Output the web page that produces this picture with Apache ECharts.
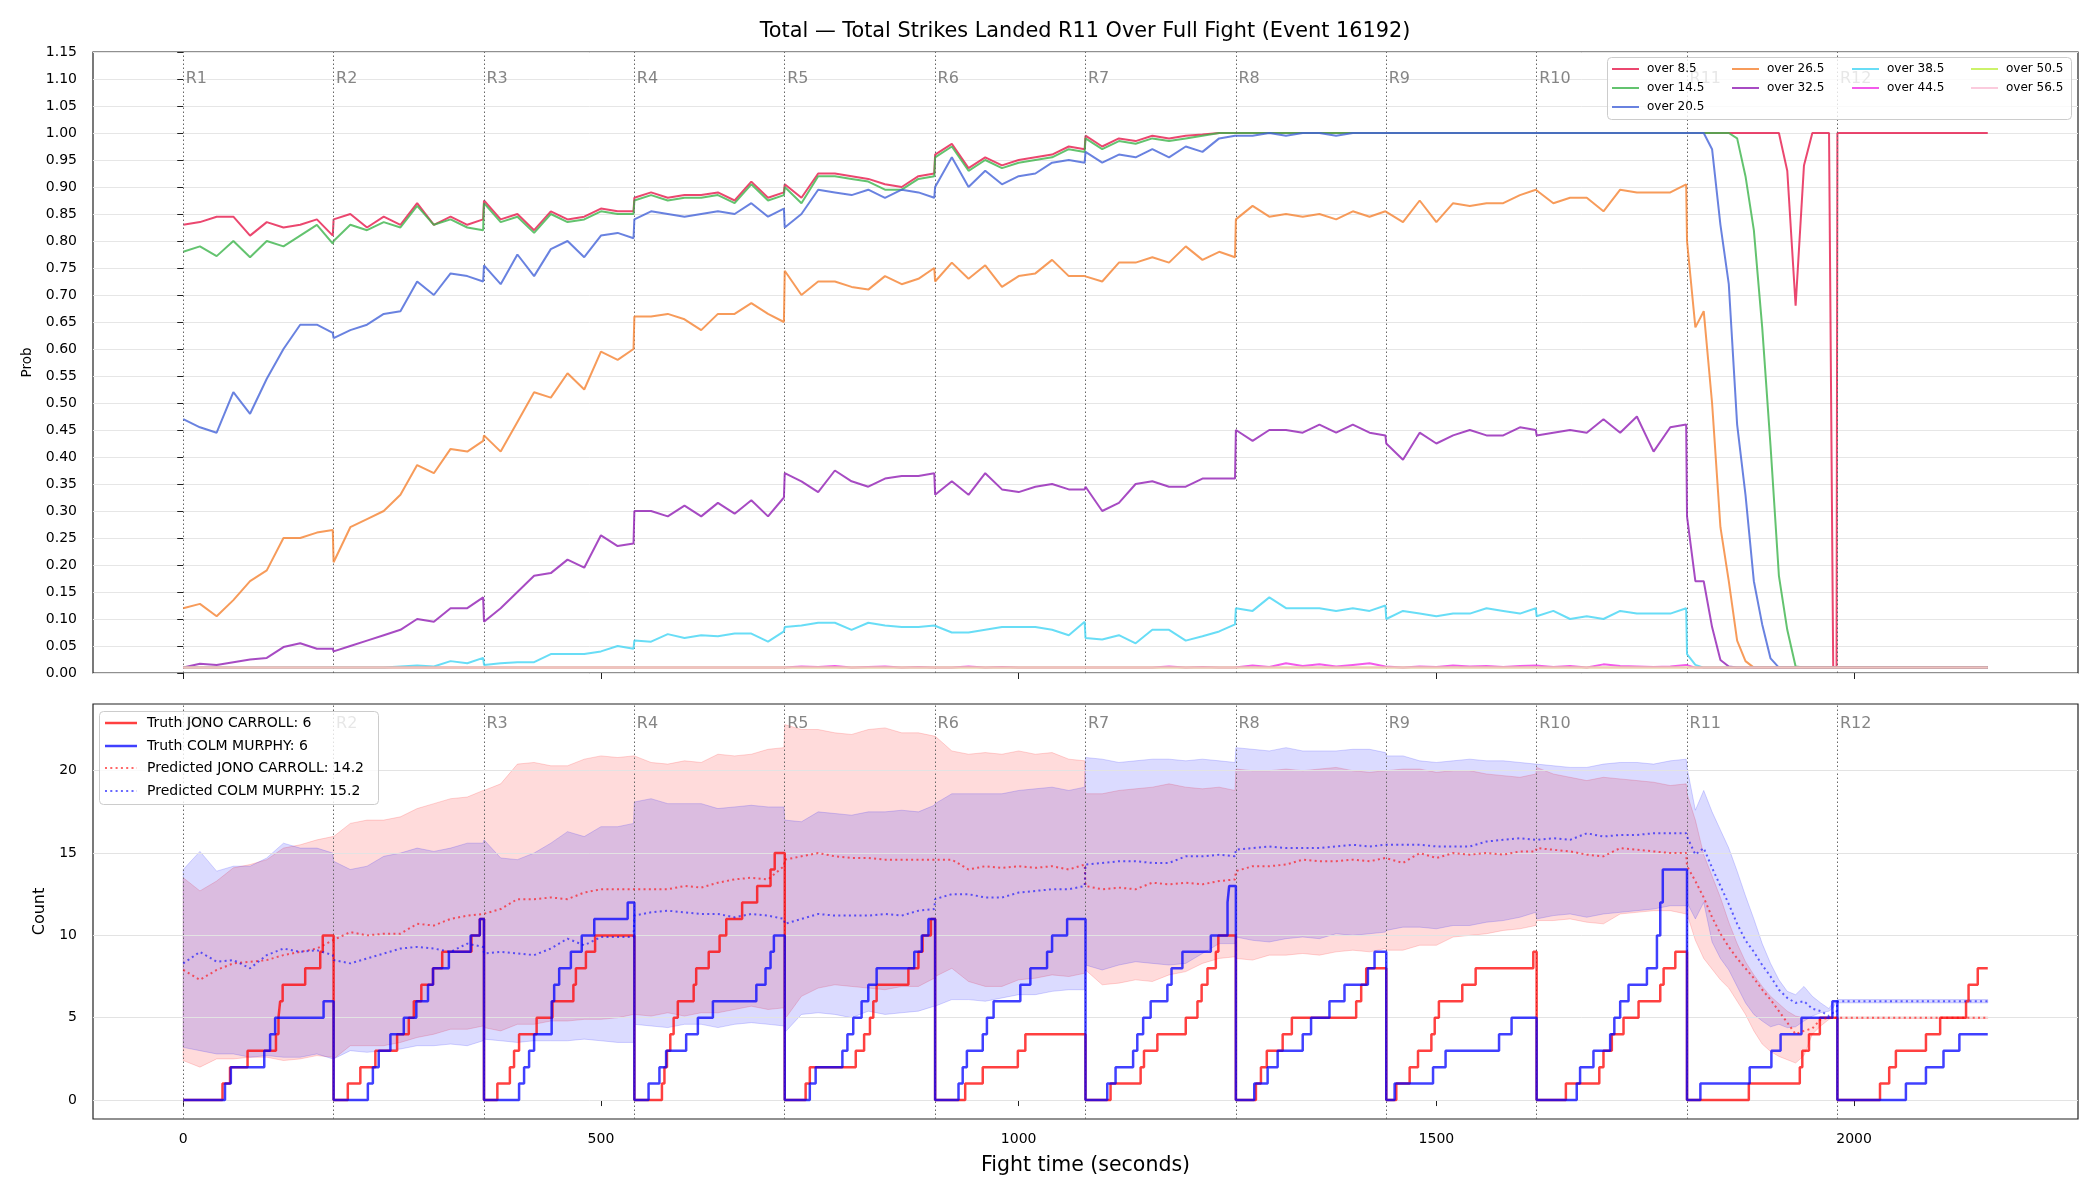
<!DOCTYPE html>
<html>
<head>
<meta charset="utf-8">
<script src="https://cdn.jsdelivr.net/npm/echarts/dist/echarts.min.js"></script>
<style>
  html, body { margin: 0; padding: 0; background: #fff; }
  #chart { width: 2100px; height: 1200px; }
</style>
</head>
<body>
<div id="chart"></div>
<script>
// ---- sampling grid (seconds into the fight) ----
const roundStarts = [0, 180, 360, 540, 720, 900, 1080, 1260, 1440, 1620, 1800, 1980];
const roundNames = ['R1', 'R2', 'R3', 'R4', 'R5', 'R6', 'R7', 'R8', 'R9', 'R10', 'R11', 'R12'];
const stdOffsets = [0, 20, 40, 60, 80, 100, 120, 140, 160, 179];
const r11Offsets = [0, 10, 20, 30, 40, 50, 60, 70, 80, 90, 100, 110, 120, 130, 140, 150, 160, 170, 175, 179];
const lastOffsets = [0, 20, 40, 60, 80, 100, 120, 140, 160, 180];
const xTicks = [0, 500, 1000, 1500, 2000];
const countTicks = [0, 5, 10, 15, 20];

const ONE10 = [1, 1, 1, 1, 1, 1, 1, 1, 1, 1];
const LOW10 = [0.01, 0.01, 0.01, 0.01, 0.01, 0.01, 0.01, 0.01, 0.01, 0.01];
const LOW20 = [0.01, 0.01, 0.01, 0.01, 0.01, 0.01, 0.01, 0.01, 0.01, 0.01,
               0.01, 0.01, 0.01, 0.01, 0.01, 0.01, 0.01, 0.01, 0.01, 0.01];

// ---- top panel: probability of "over N" per round ----
const over8_5 = [
  [0.83, 0.835, 0.845, 0.845, 0.81, 0.835, 0.825, 0.83, 0.84, 0.81],
  [0.84, 0.85, 0.825, 0.845, 0.83, 0.87, 0.83, 0.845, 0.83, 0.84],
  [0.875, 0.84, 0.85, 0.82, 0.855, 0.84, 0.845, 0.86, 0.855, 0.855],
  [0.88, 0.89, 0.88, 0.885, 0.885, 0.89, 0.875, 0.91, 0.88, 0.89],
  [0.905, 0.88, 0.925, 0.925, 0.92, 0.915, 0.905, 0.90, 0.92, 0.925],
  [0.96, 0.98, 0.935, 0.955, 0.94, 0.95, 0.955, 0.96, 0.975, 0.97],
  [0.995, 0.975, 0.99, 0.985, 0.995, 0.99, 0.995, 0.997, 1, 1],
  ONE10, ONE10, ONE10,
  [1, 1, 1, 1, 1, 1, 1, 1, 1, 1, 1, 1, 0.93, 0.68, 0.94, 1, 1, 1, 0.01, 0.01],
  ONE10
];
const over14_5 = [
  [0.78, 0.79, 0.772, 0.80, 0.77, 0.80, 0.79, 0.81, 0.83, 0.795],
  [0.80, 0.83, 0.82, 0.835, 0.825, 0.865, 0.83, 0.84, 0.825, 0.82],
  [0.87, 0.835, 0.845, 0.815, 0.85, 0.835, 0.84, 0.855, 0.85, 0.85],
  [0.875, 0.885, 0.875, 0.88, 0.88, 0.885, 0.87, 0.905, 0.875, 0.885],
  [0.90, 0.87, 0.92, 0.92, 0.915, 0.91, 0.895, 0.895, 0.915, 0.92],
  [0.955, 0.975, 0.93, 0.95, 0.935, 0.945, 0.95, 0.955, 0.97, 0.965],
  [0.99, 0.97, 0.985, 0.98, 0.99, 0.985, 0.99, 0.995, 1, 1],
  ONE10, ONE10, ONE10,
  [1, 1, 1, 1, 1, 1, 0.99, 0.92, 0.82, 0.64, 0.42, 0.18, 0.08, 0.012, 0.01, 0.01, 0.01, 0.01, 0.01, 0.01],
  LOW10
];
const over20_5 = [
  [0.47, 0.455, 0.445, 0.52, 0.48, 0.545, 0.60, 0.645, 0.645, 0.63],
  [0.62, 0.635, 0.645, 0.665, 0.67, 0.725, 0.70, 0.74, 0.735, 0.725],
  [0.755, 0.72, 0.775, 0.735, 0.785, 0.80, 0.77, 0.81, 0.815, 0.805],
  [0.84, 0.855, 0.85, 0.845, 0.85, 0.855, 0.85, 0.87, 0.845, 0.86],
  [0.825, 0.85, 0.895, 0.89, 0.885, 0.895, 0.88, 0.895, 0.89, 0.88],
  [0.90, 0.955, 0.90, 0.93, 0.905, 0.92, 0.925, 0.945, 0.95, 0.945],
  [0.965, 0.945, 0.96, 0.955, 0.97, 0.955, 0.975, 0.965, 0.99, 0.995],
  [0.995, 0.995, 1, 0.995, 1, 1, 0.995, 1, 1, 1],
  ONE10, ONE10,
  [1, 1, 1, 0.97, 0.83, 0.72, 0.46, 0.33, 0.17, 0.09, 0.027, 0.01, 0.01, 0.01, 0.01, 0.01, 0.01, 0.01, 0.01, 0.01],
  LOW10
];
const over26_5 = [
  [0.12, 0.128, 0.105, 0.135, 0.17, 0.19, 0.25, 0.25, 0.26, 0.265],
  [0.205, 0.27, 0.285, 0.30, 0.33, 0.385, 0.37, 0.415, 0.41, 0.43],
  [0.44, 0.41, 0.465, 0.52, 0.51, 0.555, 0.525, 0.595, 0.58, 0.60],
  [0.66, 0.66, 0.665, 0.655, 0.635, 0.665, 0.665, 0.685, 0.665, 0.65],
  [0.745, 0.70, 0.725, 0.725, 0.715, 0.71, 0.735, 0.72, 0.73, 0.75],
  [0.725, 0.76, 0.73, 0.755, 0.715, 0.735, 0.74, 0.765, 0.735, 0.735],
  [0.735, 0.725, 0.76, 0.76, 0.77, 0.76, 0.79, 0.765, 0.78, 0.77],
  [0.84, 0.865, 0.845, 0.85, 0.845, 0.85, 0.84, 0.855, 0.845, 0.855],
  [0.855, 0.835, 0.875, 0.835, 0.87, 0.865, 0.87, 0.87, 0.885, 0.895],
  [0.895, 0.87, 0.88, 0.88, 0.855, 0.895, 0.89, 0.89, 0.89, 0.905],
  [0.80, 0.64, 0.67, 0.50, 0.27, 0.17, 0.06, 0.022, 0.01, 0.01, 0.01, 0.01, 0.01, 0.01, 0.01, 0.01, 0.01, 0.01, 0.01, 0.01],
  LOW10
];
const over32_5 = [
  [0.01, 0.017, 0.015, 0.02, 0.025, 0.028, 0.048, 0.055, 0.045, 0.045],
  [0.04, 0.05, 0.06, 0.07, 0.08, 0.10, 0.095, 0.12, 0.12, 0.14],
  [0.095, 0.12, 0.15, 0.18, 0.185, 0.21, 0.195, 0.255, 0.235, 0.24],
  [0.30, 0.30, 0.29, 0.31, 0.29, 0.315, 0.295, 0.32, 0.29, 0.325],
  [0.37, 0.355, 0.335, 0.375, 0.355, 0.345, 0.36, 0.365, 0.365, 0.37],
  [0.33, 0.355, 0.33, 0.37, 0.34, 0.335, 0.345, 0.35, 0.34, 0.34],
  [0.345, 0.30, 0.315, 0.35, 0.355, 0.345, 0.345, 0.36, 0.36, 0.36],
  [0.45, 0.43, 0.45, 0.45, 0.445, 0.46, 0.445, 0.46, 0.445, 0.44],
  [0.425, 0.395, 0.445, 0.425, 0.44, 0.45, 0.44, 0.44, 0.455, 0.45],
  [0.44, 0.445, 0.45, 0.445, 0.47, 0.445, 0.475, 0.41, 0.455, 0.46],
  [0.29, 0.17, 0.17, 0.085, 0.024, 0.012, 0.01, 0.01, 0.01, 0.01, 0.01, 0.01, 0.01, 0.01, 0.01, 0.01, 0.01, 0.01, 0.01, 0.01],
  LOW10
];
const over38_5 = [
  LOW10,
  [0.01, 0.01, 0.01, 0.01, 0.012, 0.014, 0.012, 0.022, 0.018, 0.028],
  [0.015, 0.018, 0.02, 0.02, 0.035, 0.035, 0.035, 0.04, 0.05, 0.045],
  [0.06, 0.058, 0.072, 0.065, 0.07, 0.068, 0.073, 0.073, 0.058, 0.077],
  [0.085, 0.088, 0.093, 0.093, 0.08, 0.093, 0.088, 0.085, 0.085, 0.088],
  [0.085, 0.075, 0.075, 0.08, 0.085, 0.085, 0.085, 0.08, 0.07, 0.095],
  [0.065, 0.062, 0.07, 0.055, 0.08, 0.08, 0.06, 0.068, 0.077, 0.09],
  [0.12, 0.115, 0.14, 0.12, 0.12, 0.12, 0.115, 0.12, 0.115, 0.125],
  [0.10, 0.115, 0.11, 0.105, 0.11, 0.11, 0.12, 0.115, 0.11, 0.12],
  [0.105, 0.115, 0.10, 0.105, 0.10, 0.115, 0.11, 0.11, 0.11, 0.12],
  [0.035, 0.015, 0.01, 0.01, 0.01, 0.01, 0.01, 0.01, 0.01, 0.01, 0.01, 0.01, 0.01, 0.01, 0.01, 0.01, 0.01, 0.01, 0.01, 0.01],
  LOW10
];
const over44_5 = [
  LOW10, LOW10, LOW10, LOW10,
  [0.01, 0.012, 0.011, 0.013, 0.01, 0.011, 0.012, 0.01, 0.011, 0.01],
  [0.011, 0.01, 0.012, 0.01, 0.011, 0.01, 0.01, 0.01, 0.01, 0.01],
  [0.01, 0.01, 0.01, 0.01, 0.01, 0.012, 0.01, 0.011, 0.01, 0.01],
  [0.012, 0.014, 0.011, 0.018, 0.013, 0.016, 0.012, 0.015, 0.018, 0.012],
  [0.013, 0.01, 0.012, 0.011, 0.014, 0.012, 0.013, 0.011, 0.013, 0.014],
  [0.012, 0.011, 0.013, 0.01, 0.016, 0.013, 0.012, 0.011, 0.012, 0.015],
  [0.015, 0.01, 0.01, 0.01, 0.01, 0.01, 0.01, 0.01, 0.01, 0.01, 0.01, 0.01, 0.01, 0.01, 0.01, 0.01, 0.01, 0.01, 0.01, 0.01],
  LOW10
];
const over50_5 = [LOW10, LOW10, LOW10, LOW10, LOW10, LOW10, LOW10, LOW10, LOW10, LOW10, LOW20, LOW10];
const over56_5 = [LOW10, LOW10, LOW10, LOW10, LOW10, LOW10, LOW10, LOW10, LOW10, LOW10, LOW20, LOW10];

// ---- bottom panel: predicted counts and bands per round ----
const predJono = [
  [7.9, 7.3, 7.9, 8.3, 8.4, 8.5, 8.8, 9.0, 9.2, 9.7],
  [9.6, 10.2, 10.0, 10.1, 10.1, 10.7, 10.6, 11.0, 11.2, 11.3],
  [11.4, 11.6, 12.2, 12.2, 12.3, 12.2, 12.6, 12.8, 12.8, 12.8],
  [12.8, 12.8, 12.8, 13.0, 12.9, 13.2, 13.4, 13.5, 13.4, 14.2],
  [14.6, 14.8, 15.0, 14.8, 14.7, 14.7, 14.6, 14.6, 14.6, 14.6],
  [14.5, 14.6, 14.0, 14.2, 14.1, 14.2, 14.1, 14.2, 14.0, 14.3],
  [13.0, 12.8, 12.9, 12.8, 13.2, 13.1, 13.2, 13.1, 13.3, 13.4],
  [13.9, 14.2, 14.2, 14.3, 14.6, 14.5, 14.5, 14.6, 14.5, 14.7],
  [14.6, 14.4, 15.0, 14.7, 15.0, 14.9, 15.0, 14.9, 15.1, 15.1],
  [15.3, 15.2, 15.1, 14.9, 14.8, 15.3, 15.2, 15.1, 15.0, 15.0],
  [14.2, 13.3, 12.3, 11.1, 10.1, 9.3, 8.6, 8.0, 7.4, 6.7, 6.1, 5.4, 4.7, 4.0, 4.2, 4.35, 4.9, 5.0, 5.0, 5.0],
  [5, 5, 5, 5, 5, 5, 5, 5, 5, 5]
];
const predColm = [
  [8.3, 9.0, 8.4, 8.5, 8.0, 8.8, 9.2, 9.0, 9.1, 8.8],
  [8.5, 8.3, 8.6, 8.9, 9.2, 9.3, 9.2, 9.0, 9.5, 9.3],
  [8.9, 9.0, 8.9, 8.8, 9.2, 9.8, 9.4, 9.9, 9.9, 9.9],
  [11.2, 11.4, 11.5, 11.4, 11.3, 11.3, 11.1, 11.3, 11.2, 11.0],
  [10.7, 11.0, 11.3, 11.2, 11.2, 11.2, 11.3, 11.2, 11.5, 11.6],
  [12.2, 12.5, 12.5, 12.3, 12.3, 12.6, 12.7, 12.8, 12.8, 13.0],
  [14.3, 14.4, 14.5, 14.5, 14.4, 14.4, 14.8, 14.8, 14.9, 14.8],
  [15.2, 15.3, 15.4, 15.3, 15.3, 15.3, 15.4, 15.5, 15.4, 15.5],
  [15.4, 15.5, 15.5, 15.4, 15.4, 15.4, 15.7, 15.8, 15.9, 15.8],
  [15.8, 15.9, 15.8, 16.2, 16.0, 16.1, 16.1, 16.2, 16.2, 16.2],
  [16.0, 14.9, 15.3, 14.1, 13.0, 11.9, 10.7, 9.7, 9.0, 8.2, 7.5, 6.7, 6.2, 5.9, 6.0, 5.55, 5.4, 5.1, 5.3, 5.3],
  [6, 6, 6, 6, 6, 6, 6, 6, 6, 6]
];
const jonoHi = [
  [13.5, 12.7, 13.3, 14.1, 14.3, 14.6, 15.3, 15.5, 15.8, 16.0],
  [16.0, 16.8, 17.0, 17.0, 17.2, 17.7, 18.0, 18.3, 18.4, 18.8],
  [18.8, 19.2, 20.4, 20.5, 20.3, 20.3, 20.7, 20.9, 20.8, 20.9],
  [20.9, 20.5, 20.4, 20.6, 20.5, 21.0, 20.9, 21.0, 21.3, 21.4],
  [22.8, 22.5, 22.5, 22.3, 22.2, 22.5, 22.6, 22.3, 22.3, 22.1],
  [22.1, 21.2, 21.0, 21.1, 21.0, 21.2, 21.0, 21.1, 20.7, 20.6],
  [18.6, 18.6, 18.8, 18.9, 19.0, 19.2, 19.0, 18.9, 19.0, 18.8],
  [20.1, 20.0, 20.0, 20.1, 20.0, 20.1, 20.2, 20.0, 19.9, 20.0],
  [20.0, 20.1, 20.1, 19.9, 20.0, 20.0, 19.8, 19.7, 19.6, 19.8],
  [20.2, 19.8, 19.6, 19.4, 19.6, 19.5, 19.4, 19.3, 19.1, 19.2],
  [18.6, 17.0, 14.9, 13.6, 12.3, 10.8, 9.5, 8.4, 7.6, 6.9, 6.3, 5.85, 5.4, 5.1, 5.0, 5.0, 5.0, 5.0, 5.0, 5.0],
  [5.05, 5.05, 5.05, 5.05, 5.05, 5.05, 5.05, 5.05, 5.05, 5.05]
];
const jonoLo = [
  [2.4, 2.0, 2.5, 2.5, 2.6, 2.6, 2.4, 2.5, 2.7, 2.6],
  [2.5, 3.3, 3.3, 3.3, 3.5, 3.8, 4.0, 4.3, 4.3, 4.5],
  [4.4, 4.2, 4.6, 4.6, 4.8, 4.8, 4.9, 4.9, 5.0, 5.2],
  [5.2, 5.1, 5.3, 5.1, 5.3, 5.3, 5.5, 5.7, 5.5, 5.6],
  [4.9, 6.3, 6.8, 7.0, 6.9, 6.8, 6.7, 6.9, 6.9, 7.4],
  [7.5, 8.0, 7.2, 6.9, 6.9, 7.3, 7.4, 7.6, 7.5, 7.7],
  [7.9, 7.0, 7.1, 7.3, 7.2, 7.6, 7.8, 8.3, 8.6, 8.7],
  [8.6, 8.5, 8.8, 8.8, 8.9, 8.8, 9.0, 9.1, 9.0, 9.2],
  [9.1, 9.1, 9.4, 9.4, 9.9, 10.0, 10.1, 10.3, 10.4, 10.6],
  [10.9, 10.9, 11.0, 10.8, 10.7, 11.3, 11.4, 11.5, 11.5, 11.3],
  [11.3, 9.7, 8.6, 7.95, 7.3, 6.8, 6.0, 5.2, 4.2, 3.4, 2.95, 2.65, 2.45, 2.25, 2.7, 4.0, 4.5, 4.9, 5.0, 5.0],
  [4.95, 4.95, 4.95, 4.95, 4.95, 4.95, 4.95, 4.95, 4.95, 4.95]
];
const colmHi = [
  [14.0, 15.1, 13.9, 14.2, 14.2, 14.7, 15.6, 15.3, 15.3, 15.0],
  [14.5, 14.0, 14.2, 14.8, 15.0, 15.3, 15.1, 15.3, 15.6, 15.6],
  [15.8, 14.7, 14.6, 15.0, 15.6, 16.3, 16.0, 16.6, 16.6, 16.8],
  [18.1, 18.3, 18.0, 18.0, 18.0, 17.7, 17.8, 17.9, 17.8, 17.8],
  [17.0, 16.9, 17.5, 17.4, 17.3, 17.5, 17.5, 17.6, 17.5, 17.9],
  [18.0, 18.6, 18.6, 18.6, 18.6, 18.8, 18.9, 19.0, 18.8, 19.0],
  [20.8, 20.7, 20.5, 20.6, 20.7, 20.7, 20.6, 20.7, 20.6, 20.5],
  [21.4, 21.3, 21.2, 21.4, 21.2, 21.2, 21.2, 21.3, 21.3, 21.1],
  [20.9, 20.9, 20.6, 20.5, 20.6, 20.7, 20.6, 20.6, 20.5, 20.4],
  [20.4, 20.3, 20.2, 20.2, 20.4, 20.5, 20.5, 20.4, 20.6, 20.7],
  [20.2, 17.6, 18.8, 17.5, 16.4, 15.3, 13.9, 12.4, 11.0, 9.5, 8.3, 7.3, 6.6, 6.4, 6.9, 6.3, 5.9, 5.55, 6.0, 6.0],
  [6.1, 6.1, 6.1, 6.1, 6.1, 6.1, 6.1, 6.1, 6.1, 6.1]
];
const colmLo = [
  [3.2, 3.0, 2.8, 2.8, 2.6, 2.7, 2.6, 2.6, 2.8, 2.5],
  [2.5, 3.0, 2.9, 3.0, 3.1, 3.3, 3.3, 3.4, 3.3, 3.6],
  [3.7, 3.6, 3.5, 3.6, 3.6, 3.6, 3.7, 3.6, 3.5, 3.5],
  [4.6, 4.5, 4.4, 4.6, 4.6, 4.4, 4.6, 4.7, 4.6, 4.5],
  [4.1, 5.2, 5.3, 5.2, 5.0, 5.4, 5.2, 5.3, 5.4, 5.7],
  [5.7, 6.1, 6.1, 6.0, 6.2, 6.4, 6.4, 6.6, 6.7, 6.7],
  [8.2, 7.9, 8.2, 8.4, 8.3, 8.2, 8.3, 8.9, 9.5, 9.5],
  [9.9, 9.7, 9.6, 9.8, 9.9, 9.8, 10.1, 10.0, 10.1, 10.2],
  [10.3, 10.5, 10.5, 10.4, 10.6, 10.6, 10.8, 10.9, 11.1, 11.4],
  [11.0, 11.2, 11.3, 11.1, 11.3, 11.4, 11.5, 11.6, 11.8, 11.8],
  [12.0, 11.0, 12.0, 9.6, 8.6, 7.9, 6.9, 5.9, 5.2, 4.8, 4.45, 4.6, 4.4, 4.45, 4.8, 5.1, 5.3, 5.4, 5.6, 6.0],
  [5.9, 5.9, 5.9, 5.9, 5.9, 5.9, 5.9, 5.9, 5.9, 5.9]
];

// truth counts: [time, count after the strike], reset each round
const truthJono = [
  [0, 0], [47, 1], [56, 2], [77, 3], [111, 4], [114, 5], [116, 6], [119, 7], [146, 8], [164, 9], [167, 10],
  [180, 0], [197, 1], [212, 2], [230, 3], [256, 4], [270, 5], [276, 6], [285, 7], [299, 8], [310, 9], [345, 10], [355, 11],
  [360, 0], [376, 1], [391, 2], [396, 3], [402, 4], [423, 5], [442, 6], [467, 7], [470, 8], [482, 9], [493, 10],
  [540, 0], [573, 1], [576, 2], [579, 3], [583, 4], [587, 5], [592, 6], [611, 7], [614, 8], [629, 9], [642, 10], [650, 11], [669, 12], [687, 13], [703, 14], [708, 15],
  [720, 0], [745, 1], [750, 2], [805, 3], [815, 4], [822, 5], [826, 6], [830, 7], [868, 8], [880, 9], [885, 10], [895, 11],
  [900, 0], [936, 1], [957, 2], [999, 3], [1008, 4],
  [1080, 0], [1110, 1], [1146, 2], [1150, 3], [1166, 4], [1200, 5], [1214, 6], [1219, 7], [1226, 8], [1236, 9], [1239, 10],
  [1260, 0], [1284, 1], [1290, 2], [1297, 3], [1316, 4], [1327, 5], [1404, 6], [1410, 7], [1416, 8],
  [1440, 0], [1452, 1], [1468, 2], [1478, 3], [1494, 4], [1498, 5], [1503, 6], [1531, 7], [1547, 8], [1616, 9],
  [1620, 0], [1655, 1], [1695, 2], [1700, 3], [1710, 4], [1724, 5], [1742, 6], [1768, 7], [1772, 8], [1786, 9],
  [1800, 0], [1874, 1], [1935, 2], [1938, 3], [1946, 4], [1959, 5],
  [1980, 0], [2031, 1], [2042, 2], [2050, 3], [2086, 4], [2103, 5], [2134, 6], [2137, 7], [2148, 8], [2160, 8]
];
const truthColm = [
  [0, 0], [50, 1], [57, 2], [97, 3], [104, 4], [110, 5], [168, 6],
  [180, 0], [221, 1], [227, 2], [234, 3], [248, 4], [264, 5], [279, 6], [293, 7], [299, 8], [318, 9], [344, 10], [355, 11],
  [360, 0], [402, 1], [408, 2], [414, 3], [420, 4], [441, 6], [444, 7], [450, 8], [464, 9], [477, 10], [492, 11], [532, 12],
  [540, 0], [557, 1], [570, 2], [578, 3], [602, 4], [616, 5], [634, 6], [686, 7], [697, 8], [703, 9], [707, 10],
  [720, 0], [750, 1], [757, 2], [789, 3], [795, 4], [802, 5], [812, 6], [820, 7], [830, 8], [875, 9], [884, 10], [892, 11],
  [900, 0], [928, 1], [933, 2], [938, 3], [957, 4], [962, 5], [970, 6], [1002, 7], [1014, 8], [1034, 9], [1040, 10], [1058, 11],
  [1080, 0], [1106, 1], [1116, 2], [1137, 3], [1142, 4], [1149, 5], [1158, 6], [1178, 7], [1183, 8], [1196, 9], [1230, 10], [1250, 12], [1252, 13],
  [1260, 0], [1282, 1], [1298, 2], [1310, 3], [1340, 4], [1350, 5], [1372, 6], [1390, 7], [1418, 8], [1426, 9],
  [1440, 0], [1450, 1], [1496, 2], [1511, 3], [1575, 4], [1590, 5],
  [1620, 0], [1668, 1], [1672, 2], [1688, 3], [1708, 4], [1713, 5], [1720, 6], [1730, 7], [1752, 8], [1764, 10], [1768, 12], [1771, 14],
  [1800, 0], [1816, 1], [1875, 2], [1901, 3], [1912, 4], [1937, 5], [1974, 6],
  [1980, 0], [2062, 1], [2086, 2], [2107, 3], [2126, 4], [2160, 4]
];

// ---- helpers ----
const FONT = 'DejaVu Sans';

function offsetsFor(r) {
  if (r === 10) return r11Offsets;
  if (r === 11) return lastOffsets;
  return stdOffsets;
}
function sampleTimes() {
  const out = [];
  roundStarts.forEach((s, r) => offsetsFor(r).forEach(o => out.push(s + o)));
  return out;
}
const times = sampleTimes();
function flat(rounds) {
  const out = [];
  rounds.forEach(vals => vals.forEach(v => out.push(v)));
  return out;
}
function pairs(rounds) {
  const vals = flat(rounds);
  return times.map((t, i) => [t, vals[i]]);
}
function rgba(hex, a) {
  const n = parseInt(hex.slice(1), 16);
  return 'rgba(' + (n >> 16) + ',' + ((n >> 8) & 255) + ',' + (n & 255) + ',' + a + ')';
}

const topDefs = [
  ['over 8.5', '#e6194b', over8_5],
  ['over 14.5', '#3cb44b', over14_5],
  ['over 20.5', '#4363d8', over20_5],
  ['over 26.5', '#f58231', over26_5],
  ['over 32.5', '#911eb4', over32_5],
  ['over 38.5', '#42d4f4', over38_5],
  ['over 44.5', '#f032e6', over44_5],
  ['over 50.5', '#bfef45', over50_5],
  ['over 56.5', '#fabed4', over56_5]
];

const series = [];

topDefs.forEach(([name, color, rounds], i) => {
  series.push({
    name: name, type: 'line', xAxisIndex: 0, yAxisIndex: 0,
    data: pairs(rounds), symbol: 'none', showSymbol: false, silent: true,
    lineStyle: { color: rgba(color, 0.8), width: 2 },
    z: 3 + i
  });
});

function band(lo, hi, rgb) {
  const loV = flat(lo), hiV = flat(hi);
  return {
    type: 'custom', xAxisIndex: 1, yAxisIndex: 1, silent: true, z: 1,
    data: [[0, 0]],
    renderItem: function (params, api) {
      const pts = [];
      for (let i = 0; i < times.length; i++) pts.push(api.coord([times[i], hiV[i]]));
      for (let i = times.length - 1; i >= 0; i--) pts.push(api.coord([times[i], loV[i]]));
      return {
        type: 'polygon',
        shape: { points: pts },
        style: { fill: 'rgba(' + rgb + ',0.14)', stroke: 'rgba(' + rgb + ',0.16)', lineWidth: 1 }
      };
    }
  };
}
series.push(band(jonoLo, jonoHi, '255,0,0'));
series.push(band(colmLo, colmHi, '0,0,255'));

// round markers on both panels
function roundMarks(xi, labelY, extraLines) {
  return {
    type: 'scatter', xAxisIndex: xi, yAxisIndex: xi, silent: true, z: 2,
    symbolSize: 1, itemStyle: { color: 'rgba(0,0,0,0)' },
    data: roundStarts.map(t => [t, labelY]),
    label: {
      show: true, position: 'right', distance: 2,
      formatter: p => roundNames[p.dataIndex],
      color: '#666', fontSize: 16, fontFamily: FONT
    },
    markLine: {
      silent: true, symbol: 'none', animation: false,
      label: { show: false },
      lineStyle: { type: [1.5, 2.5], color: '#666', width: 1 },
      data: roundStarts.map(t => ({ xAxis: t })).concat(extraLines || [])
    }
  };
}
series.push(roundMarks(0, 1.10));
series.push(roundMarks(1, 22.85, countTicks.map(v => ({
  yAxis: v, lineStyle: { type: 'solid', color: '#e3e3e3', width: 1 }
}))));

const bottomDefs = [
  { name: 'Truth JONO CARROLL: 6', color: 'rgba(255,0,0,0.75)', width: 2.5, dash: null },
  { name: 'Truth COLM MURPHY: 6', color: 'rgba(0,0,255,0.75)', width: 2.5, dash: null },
  { name: 'Predicted JONO CARROLL: 14.2', color: 'rgba(255,0,0,0.6)', width: 2, dash: [2, 3.3] },
  { name: 'Predicted COLM MURPHY: 15.2', color: 'rgba(0,0,255,0.6)', width: 2, dash: [2, 3.3] }
];
const bottomData = [truthJono, truthColm, pairs(predJono), pairs(predColm)];
bottomDefs.forEach((d, i) => {
  series.push({
    name: d.name, type: 'line', xAxisIndex: 1, yAxisIndex: 1,
    data: bottomData[i], step: i < 2 ? 'end' : false, symbol: 'none', silent: true, z: 5 + i,
    lineStyle: { color: d.color, width: d.width, type: d.dash || 'solid' }
  });
});

// ---- legends drawn as graphic items (matplotlib column-major layout) ----
const graphics = [
  {
    type: 'text', x: 1085, y: 32, z: 60,
    style: {
      text: 'Total \u2014 Total Strikes Landed R11 Over Full Fight (Event 16192)',
      textAlign: 'center', textVerticalAlign: 'middle',
      fontFamily: FONT, fontSize: 20.8, fill: '#000'
    }
  },
  {
    type: 'rect', z: 50,
    shape: { x: 1607.5, y: 57.5, width: 464, height: 62, r: 4 },
    style: { fill: 'rgba(255,255,255,0.8)', stroke: '#ccc', lineWidth: 1 }
  },
  {
    type: 'rect', z: 50,
    shape: { x: 99.5, y: 711.5, width: 279, height: 93, r: 4 },
    style: { fill: 'rgba(255,255,255,0.8)', stroke: '#ccc', lineWidth: 1 }
  }
];
const topLegendCols = [1612, 1732, 1852, 1971];
const topLegendRows = [69, 88, 107];
topDefs.forEach(([name, color], i) => {
  const col = i < 3 ? 0 : Math.floor((i - 3) / 2) + 1;
  const row = i < 3 ? i : (i - 3) % 2;
  const x = topLegendCols[col], y = topLegendRows[row];
  graphics.push({ type: 'line', z: 55, shape: { x1: x, y1: y, x2: x + 27, y2: y }, style: { stroke: rgba(color, 0.8), lineWidth: 2 } });
  graphics.push({ type: 'text', z: 55, x: x + 35, y: y, style: { text: name, textVerticalAlign: 'middle', fontFamily: FONT, fontSize: 12, fill: '#000' } });
});
const bottomLegendRows = [723, 746, 768, 791];
bottomDefs.forEach((d, i) => {
  const y = bottomLegendRows[i];
  graphics.push({ type: 'line', z: 55, shape: { x1: 105, y1: y, x2: 137, y2: y }, style: { stroke: d.color, lineWidth: d.width, lineDash: d.dash } });
  graphics.push({ type: 'text', z: 55, x: 147, y: y, style: { text: d.name, textVerticalAlign: 'middle', fontFamily: FONT, fontSize: 14, fill: '#000' } });
});

const tickText = { fontFamily: FONT, fontSize: 14, color: '#000' };

function xAxis(gi, showLabels) {
  return {
    type: 'value', gridIndex: gi, min: -108, max: 2268,
    axisLine: { show: false },
    axisTick: { show: true, length: 6, customValues: xTicks, lineStyle: { color: '#222' } },
    axisLabel: Object.assign({ show: showLabels, customValues: xTicks, margin: 13, formatter: v => String(v) }, tickText),
    splitLine: { show: false },
    name: showLabels ? 'Fight time (seconds)' : '',
    nameLocation: 'middle', nameGap: 36,
    nameTextStyle: { fontFamily: FONT, fontSize: 20.5, color: '#000' }
  };
}

const option = {
  animation: false,
  backgroundColor: '#fff',
  graphic: graphics,
  grid: [
    { left: 93, top: 52, width: 1985, height: 621, show: true, borderColor: '#222', borderWidth: 1.2, backgroundColor: 'transparent' },
    { left: 93, top: 704, width: 1985, height: 415, show: true, borderColor: '#222', borderWidth: 1.2, backgroundColor: 'transparent' }
  ],
  xAxis: [xAxis(0, false), xAxis(1, true)],
  yAxis: [
    {
      type: 'value', gridIndex: 0, min: 0, max: 1.15, interval: 0.05,
      axisLine: { show: false },
      axisTick: { show: true, length: 6, lineStyle: { color: '#222' } },
      axisLabel: Object.assign({ margin: 16, formatter: v => v.toFixed(2) }, tickText),
      splitLine: { show: true, lineStyle: { color: '#e6e6e6', width: 1 } },
      name: 'Prob', nameLocation: 'middle', nameGap: 56,
      nameTextStyle: { fontFamily: FONT, fontSize: 13.5, color: '#000' }
    },
    {
      type: 'value', gridIndex: 1, min: -1.15, max: 24.05,
      axisLine: { show: false },
      axisTick: { show: true, length: 6, customValues: countTicks, lineStyle: { color: '#222' } },
      axisLabel: Object.assign({ margin: 16, customValues: countTicks }, tickText),
      splitLine: { show: false },
      name: 'Count', nameLocation: 'middle', nameGap: 45,
      nameTextStyle: { fontFamily: FONT, fontSize: 16, color: '#000' }
    }
  ],
  series: series
};

const chart = echarts.init(document.getElementById('chart'));
chart.setOption(option);
</script>
</body>
</html>
